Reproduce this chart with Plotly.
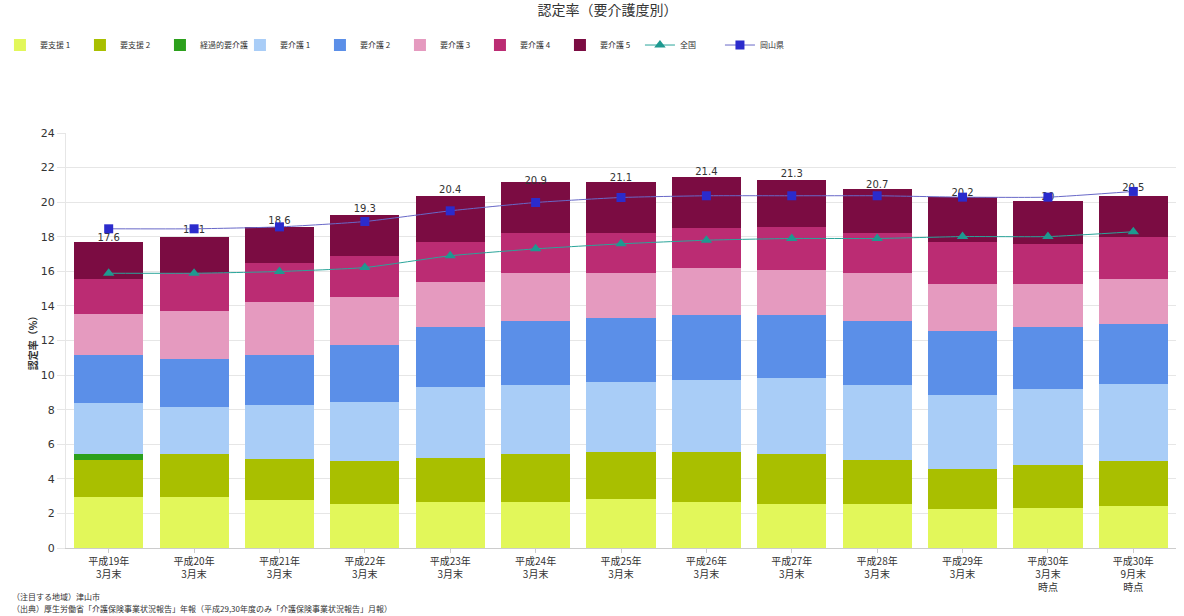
import plotly.graph_objects as go

categories = ["平成19年<br>3月末", "平成20年<br>3月末", "平成21年<br>3月末", "平成22年<br>3月末",
              "平成23年<br>3月末", "平成24年<br>3月末", "平成25年<br>3月末", "平成26年<br>3月末",
              "平成27年<br>3月末", "平成28年<br>3月末", "平成29年<br>3月末",
              "平成30年<br>3月末<br>時点", "平成30年<br>9月末<br>時点"]

youshien1 = [2.95, 2.95, 2.76, 2.57, 2.65, 2.65, 2.86, 2.65, 2.57, 2.57, 2.26, 2.34, 2.41]
youshien2 = [2.13, 2.46, 2.41, 2.45, 2.58, 2.76, 2.68, 2.89, 2.84, 2.51, 2.32, 2.45, 2.61]
keikateki = [0.33, 0, 0, 0, 0, 0, 0, 0, 0, 0, 0, 0, 0]
youkaigo1 = [2.95, 2.76, 3.09, 3.42, 4.10, 4.01, 4.08, 4.17, 4.40, 4.34, 4.26, 4.42, 4.46]
youkaigo2 = [2.78, 2.78, 2.88, 3.30, 3.47, 3.71, 3.66, 3.79, 3.69, 3.69, 3.73, 3.57, 3.48]
youkaigo3 = [2.38, 2.78, 3.11, 2.80, 2.59, 2.76, 2.61, 2.68, 2.58, 2.78, 2.70, 2.49, 2.60]
youkaigo4 = [2.04, 2.20, 2.22, 2.36, 2.30, 2.32, 2.32, 2.30, 2.48, 2.34, 2.42, 2.32, 2.44]
youkaigo5 = [2.11, 2.07, 2.07, 2.35, 2.68, 2.93, 2.93, 2.97, 2.74, 2.55, 2.60, 2.49, 2.37]
totals = [17.6, 18.1, 18.6, 19.3, 20.4, 20.9, 21.1, 21.4, 21.3, 20.7, 20.2, 20.0, 20.5]
zenkoku = [15.89, 15.89, 15.99, 16.22, 16.90, 17.30, 17.59, 17.80, 17.90, 17.90, 18.01, 18.01, 18.29]
okayama = [18.46, 18.46, 18.57, 18.88, 19.50, 19.98, 20.27, 20.37, 20.37, 20.37, 20.29, 20.29, 20.62]

bar_series = [
    ("要支援 1", youshien1, "#E2F75A"),
    ("要支援 2", youshien2, "#A9BF00"),
    ("経過的要介護", keikateki, "#2CA01C"),
    ("要介護 1", youkaigo1, "#A9CDF7"),
    ("要介護 2", youkaigo2, "#5B8FE8"),
    ("要介護 3", youkaigo3, "#E59ABF"),
    ("要介護 4", youkaigo4, "#BB2C73"),
    ("要介護 5", youkaigo5, "#7B0C42"),
]

FONT = "Noto Sans CJK JP, DejaVu Sans, sans-serif"

fig = go.Figure()
for name, vals, col in bar_series:
    fig.add_trace(go.Bar(x=categories, y=vals, name=name, marker=dict(color=col, line=dict(width=0))))

fig.add_trace(go.Scatter(x=categories, y=totals, mode="text",
                         text=[f"{v:g}" for v in totals], textposition="top center",
                         textfont=dict(size=10, color="#333333", family="DejaVu Sans"),
                         showlegend=False, hoverinfo="skip"))

fig.add_trace(go.Scatter(x=categories, y=zenkoku, name="全国", mode="lines+markers",
                         line=dict(color="#2AA59A", width=1, shape="spline", smoothing=0.5),
                         marker=dict(symbol="triangle-up", size=10, color="#1E9990")))
fig.add_trace(go.Scatter(x=categories, y=okayama, name="岡山県", mode="lines+markers",
                         line=dict(color="#6868C8", width=1, shape="spline", smoothing=0.5),
                         marker=dict(symbol="square", size=9, color="#2B2BCC")))

fig.update_layout(
    width=1184, height=616,
    margin=dict(l=66, r=8, t=133, b=68, autoexpand=False),
    barmode="stack", bargap=0.19,
    paper_bgcolor="white", plot_bgcolor="white",
    font=dict(family=FONT, size=10, color="#333333"),
    title=dict(text="認定率（要介護度別）", x=0.513, xanchor="center", y=0.992, yanchor="top",
               font=dict(size=14, color="#333333", family=FONT)),
    legend=dict(orientation="h", x=-0.0595, xref="paper", xanchor="left",
                y=1.212, yanchor="middle", traceorder="normal",
                entrywidth=35, entrywidthmode="pixels",
                font=dict(size=8, color="#333333", family=FONT)),
    showlegend=True,
    xaxis=dict(range=[-0.5, 12.5], showgrid=False, showline=True, linecolor="#cccccc", linewidth=1,
               ticks="outside", ticklen=4, tickcolor="#cccccc",
               tickfont=dict(size=10, color="#333333", family=FONT)),
    yaxis=dict(range=[0, 24], dtick=2, showgrid=True, gridcolor="#e6e6e6",
               showline=True, linecolor="#e6e6e6", zeroline=False,
               ticks="outside", ticklen=8, tickcolor="#e6e6e6",
               tickfont=dict(size=11, color="#333333", family="DejaVu Sans"),
               title=dict(text="<b>認定率（%）</b>", standoff=1,
                          font=dict(size=10, color="#333333", family=FONT))),
    annotations=[
        dict(text="（注目する地域）津山市", xref="paper", yref="paper", x=-0.0505, y=-0.118,
             xanchor="left", yanchor="middle", showarrow=False,
             font=dict(size=8, color="#333333", family=FONT)),
        dict(text="（出典）厚生労働省「介護保険事業状況報告」年報（平成29,30年度のみ「介護保険事業状況報告」月報）",
             xref="paper", yref="paper", x=-0.0505, y=-0.1446,
             xanchor="left", yanchor="middle", showarrow=False,
             font=dict(size=8, color="#333333", family=FONT)),
    ],
)

fig.write_html("out.html")
